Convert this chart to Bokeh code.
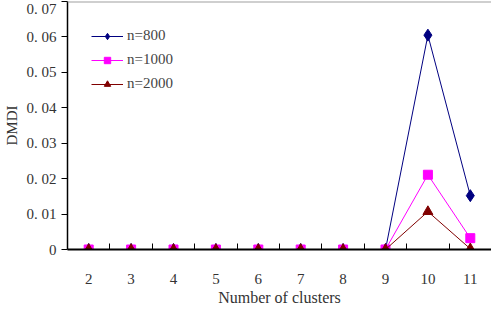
from bokeh.plotting import figure
from bokeh.models import FixedTicker, Range1d, Span, Legend, LegendItem
from bokeh.embed import file_html
from bokeh.resources import INLINE

clusters = [2, 3, 4, 5, 6, 7, 8, 9, 10, 11]
n800 = [0, 0, 0, 0, 0, 0, 0, 0, 0.0605, 0.0152]
n1000 = [0, 0, 0, 0, 0, 0, 0, 0, 0.0211, 0.0032]
n2000 = [0, 0, 0, 0, 0, 0, 0, 0, 0.0107, 0.0002]
y_ticks = [0, 0.01, 0.02, 0.03, 0.04, 0.05, 0.06, 0.07]
y_labels = ["0", "0. 01", "0. 02", "0. 03", "0. 04", "0. 05", "0. 06", "0. 07"]

FONT = "Liberation Serif"

p = figure(width=491, height=308, output_backend="svg", toolbar_location=None,
           x_range=Range1d(1.5, 11.5), y_range=Range1d(0, 0.07),
           min_border_left=60, min_border_right=0, min_border_top=1, min_border_bottom=40)
p.outline_line_color = None
p.grid.visible = False
p.background_fill_color = "white"
p.border_fill_color = "white"

top = Span(location=0.07, dimension="width", line_color="#a0a0a0", line_width=2)
p.add_layout(top)

series = [("n=800", n800, "#000080", "diamond", 12),
          ("n=1000", n1000, "#ff00ff", "square", 9),
          ("n=2000", n2000, "#800000", "triangle", 10)]
items = []
for name, ys, color, marker, size in series:
    l = p.line(clusters, ys, line_color=color, line_width=1)
    s = p.scatter(clusters, ys, marker=marker, size=size, fill_color=color, line_color=color)
    items.append(LegendItem(label=name, renderers=[l, s]))

legend = Legend(items=items, margin=0, border_line_color=None,
                background_fill_alpha=0, label_text_font=FONT, label_text_font_size="15px",
                glyph_width=32, glyph_height=16, label_height=16, spacing=7, label_standoff=4,
                padding=4)
p.add_layout(legend, "center")
legend.location = (24, 157)

xa = p.xaxis[0]
xa.ticker = FixedTicker(ticks=clusters, minor_ticks=[c + 0.5 for c in clusters[:-1]])
xa.major_tick_line_color = None
xa.minor_tick_in = 6
xa.minor_tick_out = 0
xa.minor_tick_line_color = "black"
xa.axis_line_color = "black"
xa.axis_line_width = 2
xa.major_label_standoff = 18
xa.major_label_text_font = FONT
xa.major_label_text_font_size = "15px"
xa.major_label_text_color = "#333333"
xa.axis_label = "Number of clusters"
xa.axis_label_text_font = FONT
xa.axis_label_text_font_size = "16px"
xa.axis_label_text_font_style = "normal"
xa.axis_label_text_color = "#333333"
xa.axis_label_standoff = 2

ya = p.yaxis[0]
ya.ticker = FixedTicker(ticks=y_ticks, minor_ticks=[])
ya.major_label_overrides = {t: lab for t, lab in zip(y_ticks, y_labels)}
ya.major_tick_in = 0
ya.major_tick_out = 6
ya.major_tick_line_color = "black"
ya.axis_line_color = "black"
ya.axis_line_width = 1.5
ya.major_label_standoff = 5
ya.major_label_text_font = FONT
ya.major_label_text_font_size = "15px"
ya.major_label_text_color = "#333333"
ya.axis_label = "DMDI"
ya.axis_label_text_font = FONT
ya.axis_label_text_font_size = "15px"
ya.axis_label_text_font_style = "normal"
ya.axis_label_text_color = "#333333"
ya.axis_label_standoff = 4

open("out.html", "w").write(file_html(p, INLINE))
